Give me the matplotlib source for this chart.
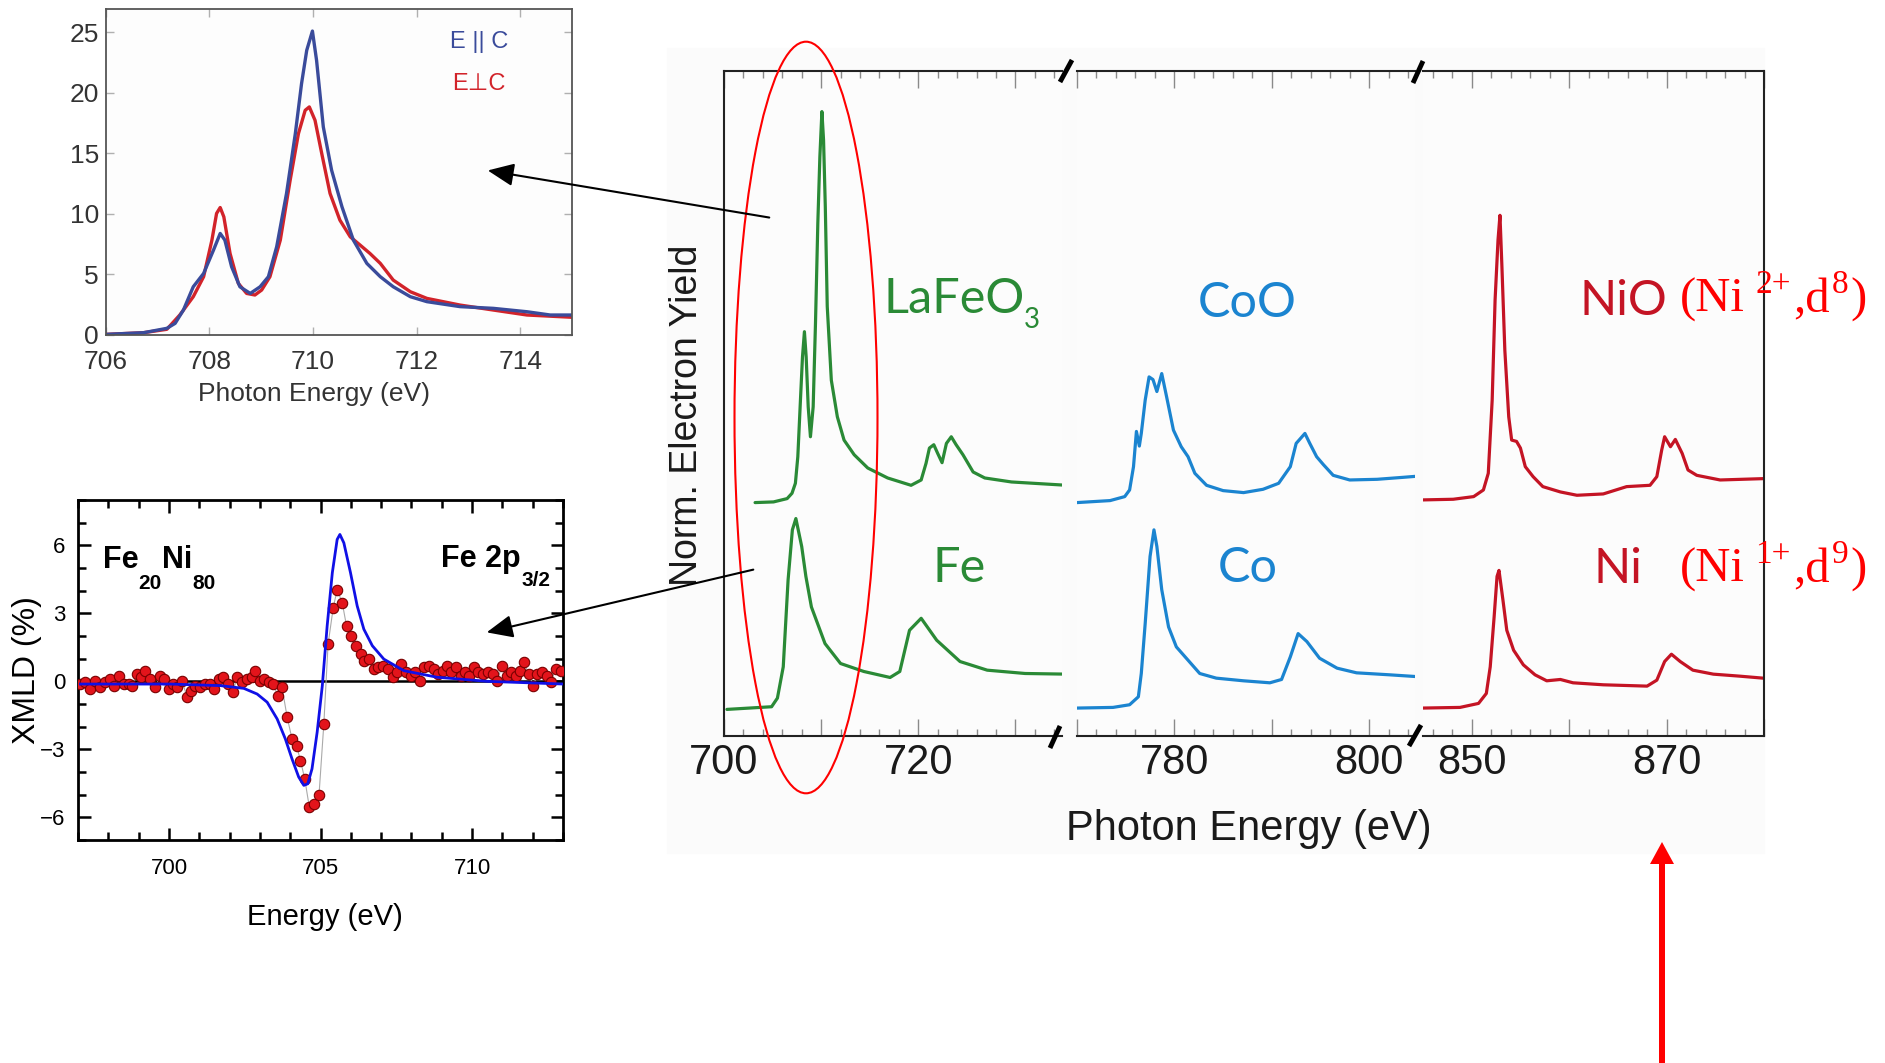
import matplotlib
matplotlib.use('Agg')
import matplotlib.pyplot as plt
from matplotlib.ticker import MultipleLocator, FuncFormatter
from matplotlib.patches import Ellipse, FancyArrow, FancyArrowPatch, Rectangle
from matplotlib.lines import Line2D

# ---------------- data: main chart (Norm. Electron Yield, arbitrary offset units) ----------------
lafeo3_E = [703.2, 705.1, 706.5, 707.0, 707.35, 707.6, 707.87, 708.08, 708.28, 708.46, 708.67, 708.9,
            709.18, 709.42, 709.66, 709.87, 710.08, 710.25, 710.43, 710.63, 711.05, 711.67, 712.36,
            713.4, 714.8, 716.85, 719.26, 720.3, 720.8, 721.15, 721.6, 722.0, 722.45, 722.9, 723.4,
            723.9, 724.6, 725.65, 726.85, 729.6, 735.3]
lafeo3_I = [3.51, 3.52, 3.57, 3.65, 3.80, 4.20, 5.05, 5.70, 6.08, 5.70, 4.95, 4.50,
            4.95, 6.21, 7.71, 8.71, 9.39, 8.96, 7.96, 6.46, 5.35, 4.80, 4.45,
            4.23, 4.03, 3.88, 3.77, 3.85, 4.10, 4.33, 4.38, 4.25, 4.11, 4.40, 4.50,
            4.38, 4.23, 3.97, 3.88, 3.82, 3.77]

fe_E = [700.3, 704.9, 705.5, 706.1, 706.6, 707.04, 707.4, 708.0, 708.43, 709.0, 710.4, 712.0, 714.4,
        717.1, 718.1, 719.1, 720.3, 721.9, 724.3, 727.1, 731.0, 735.4]
fe_I = [0.40, 0.44, 0.57, 1.04, 2.35, 3.10, 3.27, 2.85, 2.40, 1.94, 1.39, 1.09, 0.97,
        0.88, 0.97, 1.59, 1.77, 1.44, 1.12, 0.99, 0.94, 0.93]

coo_E = [770.0, 773.4, 774.9, 775.4, 775.8, 776.1, 776.4, 776.6, 777.0, 777.4, 777.8, 778.2, 778.7,
         779.2, 779.9, 780.7, 781.4, 782.1, 783.3, 785.0, 787.1, 789.1, 790.7, 791.9, 792.5, 793.4,
         793.9, 794.6, 795.3, 796.3, 798.0, 800.8, 803.5, 805.2]
coo_I = [3.51, 3.54, 3.60, 3.70, 4.05, 4.58, 4.36, 4.55, 5.05, 5.40, 5.36, 5.18, 5.45,
         5.10, 4.60, 4.35, 4.20, 3.95, 3.77, 3.69, 3.66, 3.71, 3.80, 4.05, 4.40, 4.55,
         4.40, 4.20, 4.08, 3.92, 3.85, 3.86, 3.89, 3.91]

co_E = [770.0, 773.7, 775.4, 776.3, 776.6, 777.0, 777.5, 777.9, 778.2, 778.7, 779.4, 780.2, 781.4,
        782.6, 784.3, 787.1, 789.8, 791.0, 791.9, 792.7, 793.6, 794.9, 796.7, 798.7, 802.1, 805.2]
co_I = [0.42, 0.43, 0.47, 0.59, 0.94, 1.69, 2.70, 3.10, 2.85, 2.20, 1.64, 1.34, 1.14,
        0.94, 0.87, 0.83, 0.80, 0.85, 1.19, 1.54, 1.42, 1.17, 1.02, 0.95, 0.92, 0.89]

nio_E = [844.9, 848.1, 850.2, 851.2, 851.7, 852.1, 852.4, 852.7, 852.9, 853.1, 853.4, 853.8, 854.1,
         854.6, 855.0, 855.5, 856.3, 857.3, 859.1, 860.8, 863.5, 865.9, 868.3, 869.0, 869.5, 869.8,
         870.4, 870.9, 871.6, 872.2, 873.1, 875.5, 879.9]
nio_I = [3.55, 3.56, 3.60, 3.70, 3.95, 5.05, 6.56, 7.46, 7.83, 7.06, 5.80, 4.80, 4.45,
         4.43, 4.33, 4.05, 3.90, 3.75, 3.67, 3.62, 3.64, 3.75, 3.77, 3.90, 4.30, 4.50,
         4.35, 4.46, 4.25, 4.00, 3.92, 3.85, 3.87]

ni_E = [844.9, 848.8, 850.7, 851.5, 851.9, 852.3, 852.6, 852.8, 853.2, 853.6, 854.3, 855.3, 856.5,
        857.7, 859.1, 860.4, 863.5, 868.0, 869.0, 869.8, 870.5, 871.4, 872.7, 874.8, 877.5, 879.9]
ni_I = [0.42, 0.43, 0.49, 0.64, 1.04, 1.79, 2.40, 2.49, 2.05, 1.59, 1.29, 1.07, 0.92,
        0.83, 0.85, 0.80, 0.77, 0.75, 0.84, 1.12, 1.23, 1.12, 0.99, 0.93, 0.90, 0.87]

main_tick_labels = [[700, 720], [780, 800], [850, 870]]

# ---------------- data: top-left inset (E||C, E perp C) ----------------
par_E = [706.0, 706.73, 707.18, 707.34, 707.50, 707.69, 707.89, 708.08, 708.21, 708.30, 708.43, 708.59,
         708.79, 708.98, 709.14, 709.30, 709.49, 709.66, 709.78, 709.88, 709.99, 710.07, 710.20, 710.36,
         710.56, 710.78, 711.04, 711.30, 711.55, 711.88, 712.20, 712.84, 713.48, 714.13, 714.58, 715.01]
par_I = [0.05, 0.19, 0.55, 0.96, 2.06, 3.98, 5.08, 7.00, 8.38, 7.83, 5.63, 3.98,
         3.43, 3.98, 4.81, 7.28, 11.68, 16.62, 20.74, 23.49, 25.08, 22.66, 17.17, 13.60,
         10.58, 7.83, 5.91, 4.81, 3.98, 3.16, 2.75, 2.34, 2.20, 1.92, 1.65, 1.65]
perp_E = [706.0, 706.73, 707.18, 707.43, 707.69, 707.89, 708.05, 708.14, 708.21, 708.28, 708.40, 708.56,
          708.72, 708.88, 709.01, 709.17, 709.37, 709.56, 709.72, 709.85, 709.93, 710.04, 710.17, 710.33,
          710.52, 710.72, 710.91, 711.10, 711.30, 711.55, 711.88, 712.20, 712.84, 713.48, 714.13, 715.01]
perp_I = [0.05, 0.19, 0.47, 1.65, 3.16, 4.81, 7.83, 10.03, 10.52, 9.75, 6.73, 4.26,
          3.43, 3.30, 3.71, 4.81, 7.83, 12.77, 16.62, 18.54, 18.82, 17.72, 14.97, 11.68,
          9.48, 8.10, 7.42, 6.73, 5.91, 4.53, 3.57, 3.02, 2.47, 2.06, 1.65, 1.46]

# ---------------- data: bottom-left inset (XMLD, Fe20Ni80) ----------------
xmld_E = [697.08, 697.24, 697.41, 697.57, 697.74, 697.90, 698.07, 698.20, 698.34, 698.51, 698.67, 698.78,
          698.93, 699.08, 699.22, 699.39, 699.55, 699.70, 699.85, 699.99, 700.14, 700.27, 700.43, 700.60,
          700.73, 700.87, 701.04, 701.20, 701.37, 701.50, 701.64, 701.79, 701.94, 702.11, 702.25, 702.41,
          702.58, 702.74, 702.85, 703.00, 703.13, 703.29, 703.44, 703.59, 703.73, 703.90, 704.06, 704.21,
          704.34, 704.48, 704.63, 704.78, 704.95, 705.11, 705.25, 705.42, 705.55, 705.72, 705.86, 706.01,
          706.17, 706.32, 706.45, 706.61, 706.76, 706.91, 707.07, 707.22, 707.38, 707.53, 707.67, 707.83,
          707.97, 708.12, 708.28, 708.41, 708.58, 708.74, 708.88, 709.03, 709.16, 709.31, 709.47, 709.62,
          709.76, 709.91, 710.06, 710.21, 710.37, 710.52, 710.68, 710.83, 710.99, 711.14, 711.29, 711.45,
          711.58, 711.71, 711.87, 712.02, 712.15, 712.31, 712.46, 712.59, 712.76, 712.92]
xmld_V = [-0.12, -0.04, -0.34, 0.03, -0.26, -0.04, 0.10, -0.19, 0.25, -0.12, -0.12, -0.19,
          0.32, 0.18, 0.47, 0.10, -0.26, 0.25, 0.10, -0.34, -0.12, -0.26, 0.03, -0.70,
          -0.41, -0.19, -0.26, -0.12, -0.12, -0.34, 0.10, 0.18, -0.12, -0.48, 0.18, -0.04,
          0.10, 0.18, 0.47, 0.03, 0.10, -0.04, -0.12, -0.63, -0.26, -1.58, -2.54, -2.84,
          -3.50, -4.30, -5.54, -5.40, -5.03, -1.88, 1.64, 3.25, 4.05, 3.45, 2.43, 1.99,
          1.57, 1.20, 0.91, 0.98, 0.54, 0.62, 0.69, 0.54, 0.18, 0.40, 0.76, 0.40,
          0.25, 0.40, 0.03, 0.62, 0.69, 0.54, 0.32, 0.47, 0.69, 0.40, 0.62, 0.25,
          0.40, 0.25, 0.62, 0.40, 0.32, 0.40, 0.32, 0.03, 0.69, 0.25, 0.40, 0.25,
          0.47, 0.84, 0.32, -0.19, 0.32, 0.40, 0.25, -0.04, 0.54, 0.47]
fit_E = [697.08, 700.05, 701.70, 702.47, 702.91, 703.24, 703.57, 703.84, 704.06, 704.28, 704.45, 704.58,
         704.72, 704.89, 705.06, 705.22, 705.39, 705.55, 705.64, 705.77, 705.99, 706.21, 706.43, 706.71,
         707.09, 707.75, 708.85, 710.50, 713.03]
fit_V = [-0.12, -0.12, -0.19, -0.31, -0.56, -0.92, -1.66, -2.54, -3.42, -4.22, -4.59, -4.52,
         -3.86, -2.24, -0.19, 2.45, 4.79, 6.26, 6.48, 6.11, 4.79, 3.33, 2.30, 1.57,
         0.98, 0.47, 0.18, 0.0, -0.12]

# ---------------- styling ----------------
W, H = 1885, 1063
SANS = ['Liberation Sans', 'DejaVu Sans']
SERIF = ['Liberation Serif', 'DejaVu Serif']
GEO = ['Lato', 'DejaVu Sans']
plt.rcParams['font.family'] = SANS

GREEN, BLUE, DRED, RED = '#2a8a36', '#1b84d0', '#c41424', '#ff0000'

fig = plt.figure(figsize=(W / 100, H / 100), dpi=100)
fig.patch.set_facecolor('white')
renderer = fig.canvas.get_renderer()


def fx(x):
    return x / W


def fy(y):
    return 1 - y / H


def rect(l, t, r, b):
    return [fx(l), fy(b), (r - l) / W, (b - t) / H]


def seq_text(x_anchor, pieces, align='left', **common):
    """Place text pieces one after another; pieces = (text, size, baseline_y, extra kwargs)."""
    texts = []
    widths = []
    for s, size, yb, kw in pieces:
        t = fig.text(0, fy(yb), s, fontsize=size, va='baseline', ha='left', **common, **kw)
        widths.append(t.get_window_extent(renderer).width)
        texts.append(t)
    total = sum(widths)
    x = x_anchor - total if align == 'right' else x_anchor
    for t, w in zip(texts, widths):
        t.set_x(fx(x))
        x += w


fig.add_artist(Rectangle((fx(667), fy(853)), (1764 - 667) / W, (853 - 48) / H,
                         transform=fig.transFigure, color='#fbfbfb', zorder=-5))

# ---------------- main broken-axis chart ----------------
panel_rects = [rect(724, 71, 1062, 736), rect(1077, 71, 1415, 736), rect(1423, 71, 1764, 736)]
panel_lims = [(700, 734.8), (770, 804.7), (845, 880)]
panel_series = [[(lafeo3_E, lafeo3_I), (fe_E, fe_I)],
                [(coo_E, coo_I), (co_E, co_I)],
                [(nio_E, nio_I), (ni_E, ni_I)]]
panel_colors = [GREEN, BLUE, DRED]

for i, (r, lims, series, col, labs) in enumerate(zip(panel_rects, panel_lims, panel_series,
                                                      panel_colors, main_tick_labels)):
    ax = fig.add_axes(r)
    ax.set_facecolor('#fcfcfc')
    for e, v in series:
        ax.plot(e, v, color=col, lw=2.3, solid_joinstyle='round', solid_capstyle='round')
    ax.set_xlim(*lims)
    ax.set_ylim(0, 10)
    ax.set_yticks([])
    ax.xaxis.set_major_locator(MultipleLocator(10))
    ax.xaxis.set_minor_locator(MultipleLocator(2))
    ax.xaxis.set_major_formatter(FuncFormatter(
        lambda v, p, labs=labs: str(int(round(v))) if int(round(v)) in labs else ''))
    ax.tick_params(axis='x', which='both', direction='in', top=True, bottom=True,
                   color='#8a8a8a', width=1.0)
    ax.tick_params(axis='x', which='major', length=12, labelsize=30, pad=5, labelcolor='#1a1a1a')
    ax.tick_params(axis='x', which='minor', length=5)
    for s in ax.spines.values():
        s.set_color('#222222')
        s.set_linewidth(1.5)
    if i != 0:
        ax.spines['left'].set_visible(False)
    if i != 2:
        ax.spines['right'].set_visible(False)

# break marks
for (x1, y1, x2, y2) in [(1060, 82, 1072, 60), (1050, 748, 1060, 726),
                         (1413, 83, 1423, 61), (1409, 746, 1421, 725)]:
    fig.add_artist(Line2D([fx(x1), fx(x2)], [fy(y1), fy(y2)], transform=fig.transFigure,
                          color='black', lw=3.5, solid_capstyle='butt'))

fig.text(fx(687), fy(415), 'Norm. Electron Yield', rotation=90, ha='center', va='center',
         fontsize=27, family=SANS, color='#1a1a1a')
fig.text(fx(1249), fy(840), 'Photon Energy (eV)', ha='center', va='baseline',
         fontsize=30, family=SANS, color='#1a1a1a')

# compound labels
seq_text(883, [('LaFeO', 35, 313, {}), ('3', 20, 328, {})], family=GEO, color=GREEN)
fig.text(fx(1198), fy(317), 'CoO', fontsize=35, family=GEO, color=BLUE, va='baseline')
fig.text(fx(1580), fy(315), 'NiO', fontsize=35, family=GEO, color=DRED, va='baseline')
fig.text(fx(932), fy(582), 'Fe', fontsize=35, family=GEO, color=GREEN, va='baseline')
fig.text(fx(1218), fy(582), 'Co', fontsize=35, family=GEO, color=BLUE, va='baseline')
fig.text(fx(1593), fy(583), 'Ni', fontsize=35, family=GEO, color=DRED, va='baseline')

# valence annotations (Times-like, red)
for base, sup1, sup2 in [(312, '2+', '8'), (582, '1+', '9')]:
    fig.text(fx(1680), fy(base), '(Ni', fontsize=35, family=SERIF, color=RED, va='baseline')
    fig.text(fx(1755), fy(base - 19), sup1, fontsize=24, family=SERIF, color=RED, va='baseline')
    fig.text(fx(1793), fy(base), ',d', fontsize=35, family=SERIF, color=RED, va='baseline')
    fig.text(fx(1832), fy(base - 19), sup2, fontsize=24, family=SERIF, color=RED, va='baseline')
    fig.text(fx(1850), fy(base), ')', fontsize=35, family=SERIF, color=RED, va='baseline')

# ---------------- top-left inset ----------------
axt = fig.add_axes(rect(105.7, 9, 572, 335))
axt.set_facecolor('#fdfdfd')
axt.plot(perp_E, perp_I, color='#d2232a', lw=2.4)
axt.plot(par_E, par_I, color='#3a4b9b', lw=2.4)
axt.set_xlim(706, 715)
axt.set_ylim(0, 26.9)
axt.set_xticks([706, 708, 710, 712, 714])
axt.set_yticks([0, 5, 10, 15, 20, 25])
axt.tick_params(direction='in', length=6, color='#b0b0b0', width=1, top=True, right=True,
                labelsize=19, labelcolor='#333333')
axt.tick_params(axis='x', pad=11)
axt.tick_params(axis='y', pad=5)
for s in axt.spines.values():
    s.set_color('#555555')
    s.set_linewidth(1.3)
axt.set_xlabel('Photon Energy (eV)', fontsize=19, color='#333333', va='top')
axt.xaxis.set_label_coords(0.447, -0.145)
fig.text(fx(450), fy(42), 'E || C', fontsize=17, color='#3a4b9b', va='center', family=SANS)
fig.text(fx(452), fy(84), 'E\u22a5C', fontsize=17, color='#d2232a', va='center', family=SANS)

# ---------------- bottom-left inset ----------------
axb = fig.add_axes(rect(78, 500, 563, 840))
axb.set_facecolor('white')
axb.axhline(0, color='black', lw=1.8, zorder=1)
axb.plot(xmld_E, xmld_V, color='#aaaaaa', lw=0.8, zorder=2)
axb.plot(xmld_E, xmld_V, ls='none', marker='o', ms=7.5, mfc='#e3141b', mec='#7a0000', mew=0.8,
         zorder=3)
axb.plot(fit_E, fit_V, color='#1010e6', lw=2.0, zorder=4)
axb.set_xlim(697, 713)
axb.set_ylim(-7, 8)
axb.xaxis.set_major_locator(MultipleLocator(5))
axb.xaxis.set_minor_locator(MultipleLocator(1))
axb.yaxis.set_major_locator(MultipleLocator(3))
axb.yaxis.set_minor_locator(MultipleLocator(1))
axb.tick_params(which='both', direction='in', top=True, right=True, width=1.8, color='black')
axb.tick_params(which='major', length=9, labelsize=16)
axb.tick_params(which='minor', length=6)
axb.tick_params(axis='x', pad=13)
axb.tick_params(axis='y', pad=9)
for s in axb.spines.values():
    s.set_linewidth(2.0)
    s.set_color('black')
axb.set_xlabel('Energy (eV)', fontsize=21, va='top')
axb.xaxis.set_label_coords(0.509, -0.185)
axb.set_ylabel('XMLD (%)', fontsize=23)
axb.yaxis.set_label_coords(-0.075, 0.5)

seq_text(103, [('Fe', 22, 568, {}), ('20', 15, 589, {}), ('Ni', 22, 568, {}), ('80', 15, 589, {})],
         weight='bold', family=SANS, color='black')
seq_text(550, [('Fe 2p', 22, 567, {}), ('3/2', 15, 586, {})], align='right',
         weight='bold', family=SANS, color='black')

# ---------------- annotations ----------------
fig.add_artist(Ellipse((fx(806), fy(417.5)), 143 / W, 751.6 / H, transform=fig.transFigure,
                       fill=False, ec=RED, lw=1.5, zorder=10))
for (xa, ya, xb, yb) in [(772, 218, 485, 170), (756, 569, 484, 633)]:
    fig.add_artist(FancyArrowPatch((fx(xa), fy(ya)), (fx(xb), fy(yb)), transform=fig.transFigure,
                                   arrowstyle='-|>,head_length=0.8,head_width=0.35',
                                   mutation_scale=20, color='black', lw=1.5, zorder=10))
fig.add_artist(FancyArrow(fx(1662), 0.0, 0.0, (1063 - 842) / H, width=6 / W, head_width=24 / W,
                          head_length=22 / H, length_includes_head=True, transform=fig.transFigure,
                          color=RED, lw=0, zorder=10))

fig.savefig('out.png', dpi=100, facecolor='white')
